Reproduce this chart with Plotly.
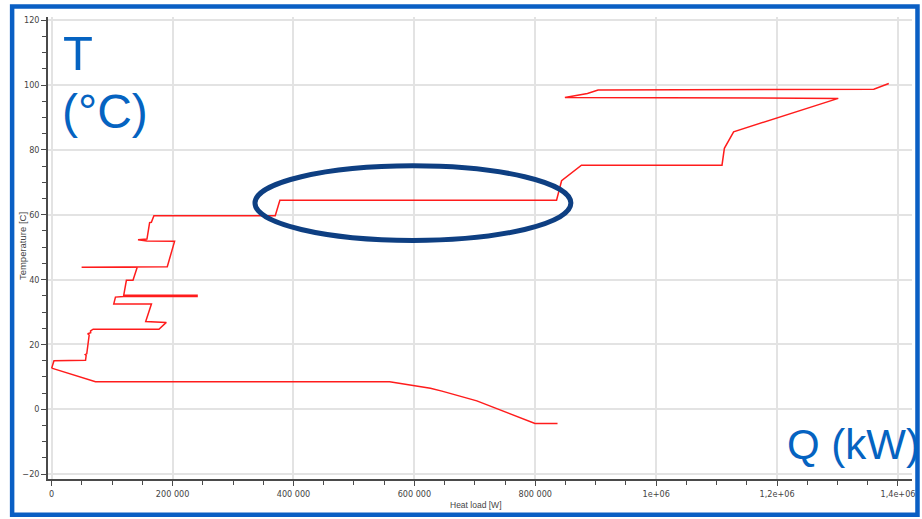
import plotly.graph_objects as go

# Lower stream: heat load [W] vs temperature [C]
lower_q = [0, 72500, 559000, 626500, 645600, 703300, 799500, 836800]
lower_t = [12.7, 8.5, 8.5, 6.5, 5.6, 2.6, -4.4, -4.4]

# Upper stream: heat load [W] vs temperature [C]
upper_q = [0, 3800, 56000, 57000, 55500, 58000, 62000, 59500, 64500, 63500,
           64300, 68600, 177400, 189600, 155500, 165000, 102700, 105500,
           119200, 240500, 240500, 119200, 123600, 134500, 141500, 49500, 191200, 203300,
           157600, 142800, 157600, 162000, 164900, 169100, 369800, 377500,
           835200, 843500, 876400, 1108900, 1112800, 1128100, 1301200,
           849000, 886300, 903900, 1360000, 1384800]
upper_t = [12.7, 15.0, 15.1, 16.6, 16.9, 17.1, 22.9, 23.3, 23.6, 24.0,
           24.2, 24.7, 24.7, 26.8, 27.1, 32.5, 32.5, 34.6,
           34.8, 34.8, 35.2, 35.2, 39.8, 39.8, 43.8, 43.8, 44.0, 51.8,
           51.9, 52.3, 52.5, 57.6, 57.7, 59.7, 59.7, 64.5,
           64.5, 70.5, 75.3, 75.3, 80.5, 85.6, 95.9,
           96.2, 97.4, 98.5, 98.7, 100.5]

# Axis ticks
x_tickvals = [0, 200000, 400000, 600000, 800000, 1000000, 1200000, 1400000]
x_ticktext = ["0", "200 000", "400 000", "600 000", "800 000",
              "1e+06", "1,2e+06", "1,4e+06"]
y_tickvals = [-20, 0, 20, 40, 60, 80, 100, 120]

# Highlighted region (heat load, temperature)
ring_q = [336300, 858900]
ring_t = [52.1, 75.1]

W, H = 922, 519
ML, MR, MT, MB = 48, 7, 17, 40
PW, PH = W - ML - MR, H - MT - MB


def px(x):
    return (x - ML) / PW


def py(y):
    return (H - MB - y) / PH


TICK_FONT = dict(family="Liberation Sans Narrow, DejaVu Sans Condensed, Arial Narrow, sans-serif",
                 size=9, color="#444444")
LINE_RED = "rgb(255,28,28)"
BLUE = "#0563C1"

fig = go.Figure()
fig.add_trace(go.Scatter(x=lower_q, y=lower_t, mode="lines",
                         line=dict(color=LINE_RED, width=1.5), showlegend=False))
fig.add_trace(go.Scatter(x=upper_q, y=upper_t, mode="lines",
                         line=dict(color=LINE_RED, width=1.5), showlegend=False))

axis_common = dict(
    showline=True, linecolor="#4a4a4a", linewidth=1.5,
    ticks="outside", ticklen=5, tickcolor="#4a4a4a", tickwidth=1,
    showgrid=True, gridcolor="#e3e3e3", gridwidth=1.5,
    zeroline=False, tickfont=TICK_FONT,
)

fig.update_xaxes(
    range=[-6100, 1423200], tickmode="array", tickvals=x_tickvals, ticktext=x_ticktext,
    minor=dict(dtick=50000, tick0=0, ticks="outside", ticklen=4, tickcolor="#4a4a4a",
               showgrid=False),
    **axis_common,
)
fig.update_yaxes(
    range=[-21.5, 121.0], tickmode="array", tickvals=y_tickvals,
    minor=dict(dtick=5, tick0=0, ticks="outside", ticklen=4, tickcolor="#4a4a4a",
               showgrid=False),
    **axis_common,
)

# Axis titles
title_font = dict(family="Liberation Sans, Arial, sans-serif", color="#444444")
fig.add_annotation(text="Heat load [W]", xref="paper", yref="paper", x=px(477), y=py(505),
                   xanchor="center", yanchor="middle", showarrow=False,
                   font=dict(size=8.5, **title_font))
fig.add_annotation(text="Temperature [C]", xref="paper", yref="paper", x=px(22), y=py(246),
                   xanchor="center", yanchor="middle", showarrow=False, textangle=-90,
                   font=dict(size=9.5, **title_font))

# Highlight ring around the pinch region
fig.add_shape(type="circle", xref="x", yref="y",
              x0=ring_q[0], x1=ring_q[1], y0=ring_t[0], y1=ring_t[1],
              line=dict(color="#0E3F82", width=5), layer="above")

# Blue frame around the whole figure
fig.add_shape(type="rect", xref="paper", yref="paper",
              x0=px(12), x1=px(920.5), y0=py(514.7), y1=py(6.5),
              line=dict(color="#0A5FC4", width=4.5), layer="above")

big = dict(family="Liberation Sans, Arial, sans-serif", color=BLUE)
fig.add_annotation(text="T", xref="paper", yref="paper", x=px(61), y=py(53),
                   xanchor="left", yanchor="middle", showarrow=False,
                   font=dict(size=49, **big))
fig.add_annotation(text="(°C)", xref="paper", yref="paper", x=px(60), y=py(111),
                   xanchor="left", yanchor="middle", showarrow=False,
                   font=dict(size=48, **big))
fig.add_annotation(text="Q (kW)", xref="paper", yref="paper", x=px(788), y=py(444),
                   xanchor="left", yanchor="middle", showarrow=False,
                   font=dict(size=42, **big))

fig.update_layout(
    width=W, height=H, autosize=False,
    margin=dict(l=ML, r=MR, t=MT, b=MB),
    paper_bgcolor="white", plot_bgcolor="white",
)

fig.write_html("out.html")
